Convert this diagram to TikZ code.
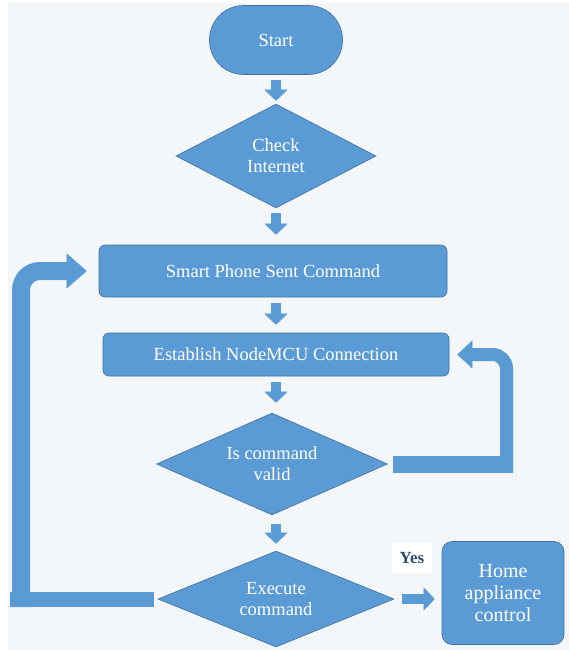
\documentclass[tikz,border=0pt]{standalone}
\usepackage{fontspec}
\setmainfont{Liberation Serif}
\usetikzlibrary{shapes.geometric,arrows.meta}
\definecolor{bfill}{RGB}{91,155,213}
\definecolor{bdraw}{RGB}{65,113,156}
\definecolor{bgc}{RGB}{244,247,250}
\definecolor{yesc}{RGB}{47,77,110}
\begin{document}
\begin{tikzpicture}[x=1pt,y=-1pt,
  every node/.style={font=\fontsize{18.5}{21}\selectfont, text=white},
  box/.style={draw=bdraw, fill=bfill, line width=0.6pt, inner sep=0pt, align=center},
  dia/.style={box, diamond, aspect=2.3},
  blk/.style={draw=bfill, line width=10pt, -{Triangle[length=11pt,width=23pt,line width=0.4pt]}},
  bar/.style={draw=bfill, line width=#1},
  bent/.style={draw=bfill, line width=#1},
]
\useasboundingbox (0,0) rectangle (569,650);
\fill[white] (0,0) rectangle (569,650);
\fill[bgc] (8,3) rectangle (569,650);

\node[box, rounded corners=34pt, minimum width=133pt, minimum height=69pt] (start) at (276,40) {Start};
\node[dia, minimum width=200pt, minimum height=104pt] (check) at (276,156) {Check\\Internet};
\node[box, rounded corners=6pt, minimum width=348pt, minimum height=52pt] (smart) at (273,271) {Smart Phone Sent Command};
\node[box, rounded corners=6pt, minimum width=346pt, minimum height=43pt] (estab) at (276,354.5) {Establish NodeMCU Connection};
\node[dia, minimum width=231pt, minimum height=102pt] (valid) at (272,464) {Is command\\valid};
\node[dia, minimum width=236pt, minimum height=96pt] (exec) at (276,599) {Execute\\command};
\node[box, rounded corners=10pt, minimum width=122pt, minimum height=103pt, font=\fontsize{20}{22}\selectfont] (home) at (503,593) {Home\\appliance\\control};
\node[fill=white, text=yesc, minimum width=40pt, minimum height=30pt, inner sep=0pt, font=\fontsize{17}{20}\selectfont\bfseries] (yes) at (412,558) {Yes};

\draw[blk, shorten <=5pt, shorten >=3pt] (start) -- (check);
\draw[blk, shorten <=5pt, shorten >=10pt] (check.south) -- (check.south |- smart.north);
\draw[blk, shorten <=6pt, shorten >=8pt] (smart.south -| check.south) -- (check.south |- estab.north);
\draw[blk, shorten <=6pt, shorten >=10pt] (estab.south -| check.south) -- (check.south |- valid.north);
\draw[blk, shorten <=9pt, shorten >=7pt] (valid.south -| check.south) -- (check.south |- exec.north);
\draw[blk, shorten <=8pt, shorten >=7pt] (exec.east) -- (exec.east -| home.west);

\coordinate (lbar) at (10,599);
\coordinate (lcorner) at (21,607);
\draw[bar=15pt, shorten <=4pt] (exec.west) -- (lbar);
\draw[bent=18pt, rounded corners=19pt, -{Triangle[length=20pt,width=35pt,line width=0.4pt]}, shorten >=12pt] (lcorner) |- (smart.west);

\coordinate (rbar) at (513,464);
\coordinate (rcorner) at (506.5,472);
\draw[bar=17pt, shorten <=5pt] (valid.east) -- (rbar);
\draw[bent=13pt, rounded corners=14pt, -{Triangle[length=15pt,width=28pt,line width=0.4pt]}, shorten >=8pt] (rcorner) |- (estab.east);
\end{tikzpicture}
\end{document}
